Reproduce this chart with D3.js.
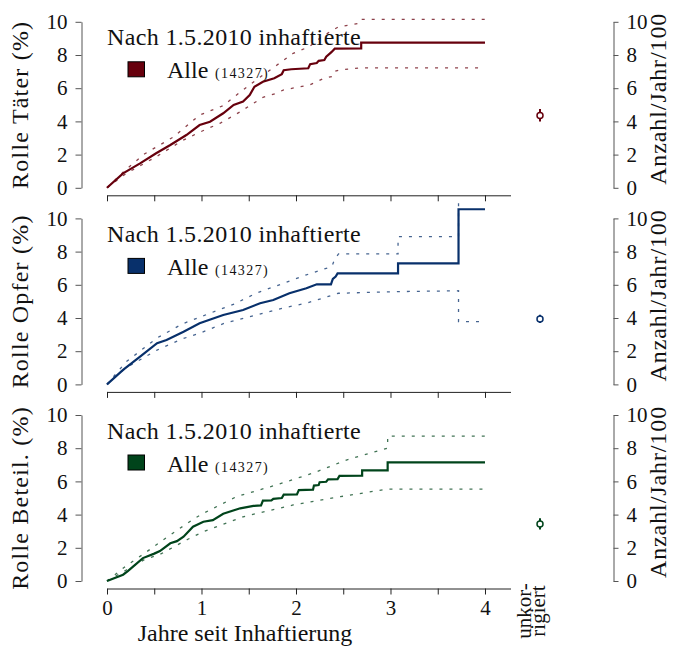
<!DOCTYPE html>
<html>
<head>
<meta charset="utf-8">
<script src="https://cdn.jsdelivr.net/npm/d3@7"></script>
<style>
  body { margin: 0; background: #fff; }
  svg text { font-family: "Liberation Serif", "Times New Roman", "DejaVu Serif", serif; fill: #111; }
</style>
</head>
<body>
<svg id="chart" width="676" height="648"></svg>
<script>
// ---- data -------------------------------------------------------------
const panelLabels = ["Rolle Täter (%)", "Rolle Opfer (%)", "Rolle Beteil. (%)"];
const panelColors = ["#67000d", "#08306b", "#00441b"];
const legendTitle = "Nach 1.5.2010 inhaftierte";
const groupName = "Alle";
const groupCount = "(14327)";
const xTicks = [0, 0.5, 1, 1.5, 2, 2.5, 3, 3.5, 4];
const xTickLabels = [0, 1, 2, 3, 4];
const yTicks = [0, 2, 4, 6, 8, 10];
const xTitle = "Jahre seit Inhaftierung";
const rightTitle = "Anzahl/Jahr/100";
const uncorrCategory = ["unkor-", "rigiert"];

// cumulative incidence (%) over years since admission, [year, value];
// a repeated year marks a jump of the step curve
const taeterEstimate = [[0,0],[0.17,0.87],[0.35,1.47],[0.52,2.08],[0.67,2.58],[0.84,3.18],[0.98,3.78],[1.09,3.98],[1.23,4.49],[1.34,4.99],[1.44,5.19],[1.51,5.59],[1.56,6.09],[1.65,6.39],[1.77,6.6],[1.85,6.85],[1.87,7.08],[1.95,7.14],[2.13,7.2],[2.15,7.45],[2.22,7.52],[2.24,7.65],[2.3,7.7],[2.32,7.9],[2.36,8.1],[2.38,8.2],[2.41,8.38],[2.69,8.4],[2.69,8.74],[4,8.74]];
const taeterUpper = [[0,0],[0.2,1.1],[0.4,2.05],[0.7,3.05],[0.98,4.38],[1.23,4.95],[1.35,5.5],[1.58,6.5],[1.8,7.4],[1.97,8.1],[2.14,8.5],[2.25,9.0],[2.36,9.4],[2.45,9.7],[2.66,9.9],[2.68,10.15],[4,10.15]];
const taeterLower = [[0,0],[0.2,0.85],[0.52,1.87],[0.8,2.85],[0.98,3.35],[1.2,3.9],[1.41,4.58],[1.65,5.45],[1.79,5.69],[1.87,5.9],[2.14,6.19],[2.3,6.6],[2.38,6.7],[2.4,7.0],[2.46,7.1],[2.68,7.22],[4,7.22]];

const opferEstimate = [[0,0],[0.17,0.87],[0.35,1.67],[0.53,2.48],[0.63,2.67],[0.81,3.17],[0.98,3.68],[1.23,4.18],[1.44,4.48],[1.62,4.89],[1.76,5.08],[1.93,5.49],[2.11,5.79],[2.22,6.03],[2.37,6.03],[2.39,6.35],[2.42,6.5],[2.44,6.69],[3.08,6.69],[3.08,7.29],[3.72,7.29],[3.72,10.55],[4,10.55]];
const opferUpper = [[0,0],[0.2,1.35],[0.53,2.8],[0.8,3.65],[1.05,4.2],[1.35,4.85],[1.58,5.5],[1.85,6.05],[2.11,6.6],[2.38,7.1],[2.41,7.55],[2.45,7.86],[3.08,7.86],[3.08,8.9],[3.72,8.9],[3.72,14],[4,14]];
const opferLower = [[0,0],[0.2,1.0],[0.53,2.07],[0.8,2.75],[0.98,3.08],[1.25,3.7],[1.58,4.18],[1.9,4.65],[2.11,4.89],[2.45,5.49],[3.08,5.59],[3.72,5.64],[3.72,3.78],[4,3.78]];

const beteilEstimate = [[0,0],[0.17,0.38],[0.22,0.6],[0.38,1.38],[0.5,1.65],[0.56,1.8],[0.67,2.27],[0.74,2.4],[0.81,2.67],[0.91,3.27],[1.02,3.57],[1.12,3.67],[1.23,4.05],[1.41,4.38],[1.55,4.52],[1.63,4.55],[1.65,4.84],[1.74,4.86],[1.76,4.95],[1.85,5.0],[1.87,5.2],[2.01,5.22],[2.03,5.48],[2.18,5.5],[2.19,5.75],[2.24,5.78],[2.25,5.95],[2.32,5.98],[2.34,6.12],[2.44,6.14],[2.46,6.33],[2.7,6.35],[2.7,6.67],[2.97,6.67],[2.97,7.15],[4,7.15]];
const beteilUpper = [[0,0],[0.2,0.9],[0.38,1.6],[0.65,2.7],[0.92,3.75],[1.02,4.08],[1.37,5.08],[1.8,5.8],[2.18,6.5],[2.54,7.3],[2.97,8.0],[2.97,8.73],[4,8.73]];
const beteilLower = [[0,0],[0.2,0.65],[0.4,1.3],[0.56,1.6],[0.85,2.5],[1.02,2.97],[1.44,3.87],[1.97,4.58],[2.47,5.08],[2.97,5.54],[4,5.54]];

// crude rate per 100 person-years, with interval
const uncorrRate = [4.35, 3.94, 3.43];
const uncorrLow = [4.0, 3.7, 3.1];
const uncorrHigh = [4.75, 4.2, 3.78];

const estimates = [taeterEstimate, opferEstimate, beteilEstimate];
const uppers = [taeterUpper, opferUpper, beteilUpper];
const lowers = [taeterLower, opferLower, beteilLower];

// ---- layout -----------------------------------------------------------
const svg = d3.select("#chart");
const panelTop0 = 21.8, panelStep = 196.6, panelH = 166;
const leftAxisX = 81.5, rightAxisX = 613.5;

const x = d3.scaleLinear().domain([0, 4.27]).range([107, 510.5]);
const xu = d3.scaleBand().domain(["unkorrigiert"]).range([520, 560]);
const xuC = xu("unkorrigiert") + xu.bandwidth() / 2;

const fontFam = '"Liberation Serif", "Times New Roman", "DejaVu Serif", serif';

function styleAxis(g, size) {
  g.attr("font-family", fontFam).attr("font-size", size);
  g.selectAll("path.domain").attr("stroke", "#555").attr("stroke-width", 1);
  g.selectAll(".tick line").attr("stroke", "#555");
  g.selectAll(".tick text").attr("fill", "#111");
}

const defs = svg.append("defs");

panelLabels.forEach((label, k) => {
  const top = panelTop0 + k * panelStep;
  const bottom = top + panelH;
  const y = d3.scaleLinear().domain([0, 10]).range([bottom, top]);
  const color = panelColors[k];
  const g = svg.append("g");

  // left axis
  const ga = g.append("g").attr("transform", `translate(${leftAxisX},0)`)
    .call(d3.axisLeft(y).tickValues(yTicks).tickSize(6).tickSizeOuter(0).tickPadding(8));
  styleAxis(ga, 21);

  // right axis
  const gr = g.append("g").attr("transform", `translate(${rightAxisX},0)`)
    .call(d3.axisRight(y).tickValues(yTicks).tickSize(5).tickSizeOuter(0).tickPadding(8));
  styleAxis(gr, 21);

  // bottom axis
  const last = k === panelLabels.length - 1;
  const gx = g.append("g").attr("transform", `translate(0,${bottom + 7.5})`)
    .call(d3.axisBottom(x).tickValues(xTicks).tickSize(6).tickSizeOuter(0).tickPadding(6)
      .tickFormat(d => (last && xTickLabels.includes(d)) ? d3.format("d")(d) : ""));
  styleAxis(gx, 21);
  gx.selectAll("path.domain").attr("stroke", "#222");
  gx.selectAll(".tick line").attr("stroke", "#222");

  // axis titles
  g.append("text")
    .attr("transform", `translate(28,${(top + bottom) / 2}) rotate(-90)`)
    .attr("text-anchor", "middle").attr("font-size", 24).attr("letter-spacing", 1.2)
    .text(label);
  g.append("text")
    .attr("transform", `translate(666,${(top + bottom) / 2 - 6}) rotate(-90)`)
    .attr("text-anchor", "middle").attr("font-size", 24).attr("letter-spacing", 0.9)
    .text(rightTitle);

  // clip for the curves
  defs.append("clipPath").attr("id", `clip${k}`)
    .append("rect").attr("x", 95).attr("y", top - 21).attr("width", 425).attr("height", panelH + 30);
  const plot = g.append("g").attr("clip-path", `url(#clip${k})`);

  const line = d3.line().x(d => x(d[0])).y(d => y(d[1]));

  [uppers[k], lowers[k]].forEach(ci => {
    plot.append("path").datum(ci)
      .attr("d", line).attr("fill", "none")
      .attr("stroke", color).attr("stroke-opacity", 0.75)
      .attr("stroke-width", 1.3).attr("stroke-dasharray", "3,7");
  });
  plot.append("path").datum(estimates[k])
    .attr("d", line).attr("fill", "none")
    .attr("stroke", color).attr("stroke-width", 2.2)
    .attr("stroke-linejoin", "miter");

  // legend
  g.append("text").attr("x", 107).attr("y", top + 23.5)
    .attr("font-size", 24).attr("letter-spacing", 0.35).text(legendTitle);
  g.append("rect").attr("x", 128).attr("y", top + 40).attr("width", 16.5).attr("height", 15)
    .attr("fill", color).attr("stroke", "#000").attr("stroke-width", 1);
  g.append("text").attr("x", 167).attr("y", top + 56.5)
    .attr("font-size", 24).text(groupName);
  g.append("text").attr("x", 215).attr("y", top + 56.5)
    .attr("font-size", 14).attr("letter-spacing", 1.4).text(groupCount);

  // uncorrected rate with interval
  g.append("line")
    .attr("x1", xuC).attr("x2", xuC)
    .attr("y1", y(uncorrLow[k])).attr("y2", y(uncorrHigh[k]))
    .attr("stroke", color).attr("stroke-width", 2);
  g.append("circle").attr("cx", xuC).attr("cy", y(uncorrRate[k])).attr("r", 3)
    .attr("fill", "#fff").attr("stroke", color).attr("stroke-width", 1.5);
});

// x title and category label
svg.append("text").attr("x", 245).attr("y", 641)
  .attr("text-anchor", "middle").attr("font-size", 24).text(xTitle);

uncorrCategory.forEach((t, i) => {
  svg.append("text")
    .attr("transform", `translate(${531 + i * 14},611) rotate(-90)`)
    .attr("text-anchor", "middle").attr("font-size", 21).text(t);
});
</script>
</body>
</html>
